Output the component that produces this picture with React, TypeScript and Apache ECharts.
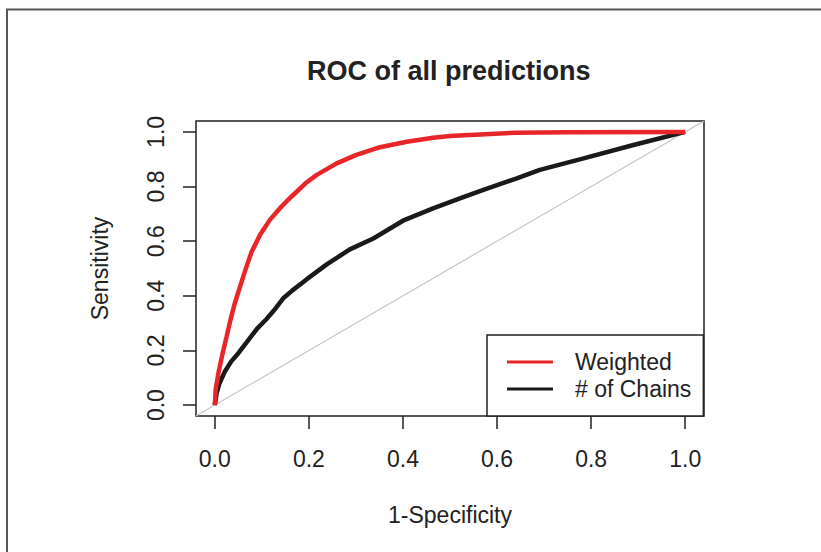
import React, { useEffect, useRef } from "react";
import * as echarts from "echarts";

const titleText = "ROC of all predictions";
const xAxisName = "1-Specificity";
const yAxisName = "Sensitivity";
const tickValues = [0, 0.2, 0.4, 0.6, 0.8, 1.0];
const seriesNames = ["Weighted", "# of Chains"];

// Weighted ROC curve: [1-specificity, sensitivity]
const weighted: number[][] = [
  [0, 0], [0.002, 0.06], [0.008, 0.12], [0.016, 0.185], [0.025, 0.25],
  [0.033, 0.31], [0.042, 0.37], [0.052, 0.425], [0.065, 0.495], [0.078, 0.56],
  [0.096, 0.623], [0.117, 0.678], [0.138, 0.72], [0.155, 0.75], [0.174, 0.781],
  [0.195, 0.815], [0.216, 0.842], [0.259, 0.885], [0.301, 0.916], [0.351, 0.944],
  [0.408, 0.964], [0.464, 0.979], [0.5, 0.985], [0.53, 0.988], [0.565, 0.991],
  [0.64, 0.997], [0.75, 0.999], [1, 1],
];

// # of Chains ROC curve
const chains: number[][] = [
  [0, 0], [0.004, 0.045], [0.01, 0.08], [0.022, 0.125], [0.035, 0.16],
  [0.05, 0.19], [0.07, 0.235], [0.09, 0.28], [0.11, 0.315], [0.125, 0.345],
  [0.145, 0.39], [0.165, 0.42], [0.195, 0.46], [0.238, 0.515], [0.287, 0.57],
  [0.337, 0.61], [0.4, 0.675], [0.464, 0.72], [0.521, 0.757], [0.571, 0.788],
  [0.642, 0.83], [0.691, 0.861], [0.784, 0.903], [0.89, 0.952], [1, 1],
];

// reference diagonal (abline 0,1) across the full plot region
const diagonal: number[][] = [[-0.04, -0.04], [1.04, 1.04]];

const FONT = "'Liberation Sans', Arial, Helvetica, sans-serif";
const INK = "#222222";

export default function App() {
  const ref = useRef<HTMLDivElement>(null);

  useEffect(() => {
    document.body.style.margin = "0";
    if (!ref.current) return;
    const chart = echarts.init(ref.current, null, { renderer: "svg" });
    chart.setOption({
      animation: false,
      backgroundColor: "#ffffff",
      textStyle: { fontFamily: FONT },
      title: {
        text: titleText,
        left: 307,
        top: 57,
        padding: 0,
        textStyle: {
          fontFamily: FONT,
          fontWeight: "bold",
          fontSize: 27,
          lineHeight: 27,
          color: INK,
        },
      },
      graphic: [
        {
          type: "rect",
          shape: { x: 7, y: 9.5, width: 900, height: 700 },
          style: { fill: "none", stroke: "#555555", lineWidth: 2 },
          silent: true,
        },
      ],
      grid: {
        left: 196,
        top: 121,
        right: 117,
        bottom: 136,
        show: true,
        borderColor: INK,
        borderWidth: 1.5,
        backgroundColor: "transparent",
      },
      legend: {
        data: seriesNames,
        orient: "vertical",
        left: 487,
        top: 335,
        icon: "rect",
        itemWidth: 46,
        itemHeight: 3,
        itemGap: 1,
        padding: [14, 12, 14, 20],
        borderColor: INK,
        borderWidth: 1.5,
        borderRadius: 0,
        backgroundColor: "#ffffff",
        textStyle: {
          fontFamily: FONT,
          fontSize: 23,
          lineHeight: 26,
          color: INK,
          padding: [0, 0, 0, 17],
        },
      },
      xAxis: {
        type: "value",
        min: -0.04,
        max: 1.04,
        name: xAxisName,
        nameLocation: "middle",
        nameGap: 87,
        nameTextStyle: { fontFamily: FONT, fontSize: 23, lineHeight: 23, color: INK },
        axisLine: { show: false, onZero: false },
        splitLine: { show: false },
        axisTick: {
          show: true,
          inside: false,
          length: 13,
          customValues: tickValues,
          lineStyle: { color: INK, width: 1.5 },
        },
        axisLabel: {
          customValues: tickValues,
          margin: 31,
          fontFamily: FONT,
          fontSize: 23,
          lineHeight: 23,
          color: INK,
          formatter: (v: number) => v.toFixed(1),
        },
      },
      yAxis: {
        type: "value",
        min: -0.04,
        max: 1.04,
        name: yAxisName,
        nameLocation: "middle",
        nameGap: 85,
        nameTextStyle: { fontFamily: FONT, fontSize: 23, lineHeight: 23, color: INK },
        axisLine: { show: false, onZero: false },
        splitLine: { show: false },
        axisTick: {
          show: true,
          inside: false,
          length: 13,
          customValues: tickValues,
          lineStyle: { color: INK, width: 1.5 },
        },
        axisLabel: {
          customValues: tickValues,
          rotate: 90,
          margin: 29,
          fontFamily: FONT,
          fontSize: 23,
          lineHeight: 23,
          color: INK,
          formatter: (v: number) => v.toFixed(1),
        },
      },
      series: [
        {
          name: "diagonal",
          type: "line",
          data: diagonal,
          showSymbol: false,
          silent: true,
          z: 1,
          lineStyle: { color: "#c4c4c4", width: 1.2 },
          itemStyle: { color: "#c4c4c4" },
        },
        {
          name: seriesNames[1],
          type: "line",
          data: chains,
          showSymbol: false,
          z: 2,
          lineStyle: { color: "#1a1a1a", width: 4.5 },
          itemStyle: { color: "#1a1a1a" },
        },
        {
          name: seriesNames[0],
          type: "line",
          data: weighted,
          showSymbol: false,
          z: 3,
          lineStyle: { color: "#e8262a", width: 4.5 },
          itemStyle: { color: "#e8262a" },
        },
      ],
    });
    return () => chart.dispose();
  }, []);

  return <div ref={ref} style={{ width: 821, height: 552 }} />;
}
